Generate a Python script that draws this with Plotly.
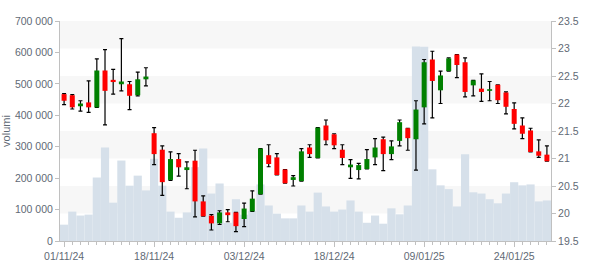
import plotly.graph_objects as go

dates = [
    "01/11/24", "04/11/24", "05/11/24", "06/11/24", "07/11/24", "08/11/24",
    "11/11/24", "12/11/24", "13/11/24", "14/11/24", "15/11/24", "18/11/24",
    "19/11/24", "20/11/24", "21/11/24", "22/11/24", "25/11/24", "26/11/24",
    "27/11/24", "28/11/24", "29/11/24",
    "02/12/24", "03/12/24", "04/12/24", "05/12/24", "06/12/24", "09/12/24",
    "10/12/24", "11/12/24", "12/12/24", "13/12/24", "16/12/24", "17/12/24",
    "18/12/24", "19/12/24", "20/12/24", "23/12/24", "27/12/24", "30/12/24",
    "02/01/25", "03/01/25", "06/01/25", "07/01/25", "08/01/25", "09/01/25",
    "10/01/25", "13/01/25", "14/01/25", "15/01/25", "16/01/25", "17/01/25",
    "20/01/25", "21/01/25", "22/01/25", "23/01/25", "24/01/25", "27/01/25",
    "28/01/25", "29/01/25", "30/01/25",
]

opens = [22.17, 22.15, 21.95, 22.02, 21.93, 22.60, 22.43, 22.35, 22.35, 22.15,
         22.44, 21.46, 21.16, 20.61, 20.99, 20.79, 20.96, 20.22, 19.96, 19.82,
         20.02, 20.02, 19.90, 20.04, 20.35, 21.06, 21.02, 20.80, 20.61, 20.59,
         21.20, 21.01, 21.60, 21.44, 21.16, 20.84, 20.79, 20.81, 21.02, 21.35,
         21.08, 21.32, 21.55, 21.35, 21.93, 22.80, 22.24, 22.59, 22.89, 22.75,
         22.33, 22.27, 22.23, 22.34, 22.20, 21.90, 21.60, 21.51, 21.13, 21.07]
highs = [22.18, 22.16, 22.05, 22.41, 22.81, 22.98, 22.62, 23.18, 22.40, 22.57,
         22.65, 21.56, 21.23, 21.12, 21.09, 20.94, 21.15, 20.32, 19.98, 20.05,
         20.07, 20.02, 20.19, 20.41, 21.18, 21.25, 21.09, 20.80, 20.69, 21.18,
         21.25, 21.56, 21.70, 21.45, 21.25, 20.98, 20.91, 21.16, 21.36, 21.39,
         21.32, 21.70, 21.55, 22.05, 22.80, 22.95, 22.59, 22.83, 22.89, 22.83,
         22.42, 22.54, 22.40, 22.34, 22.21, 22.01, 21.74, 21.55, 21.34, 21.23]
lows = [21.98, 21.90, 21.86, 21.84, 21.93, 21.61, 22.17, 22.23, 21.89, 22.14,
        22.32, 20.89, 20.33, 20.60, 20.68, 20.45, 19.94, 19.95, 19.70, 19.80,
        19.85, 19.67, 19.76, 20.04, 20.35, 20.85, 20.70, 20.55, 20.50, 20.59,
        21.02, 21.01, 21.25, 21.18, 20.89, 20.64, 20.63, 20.81, 20.89, 20.78,
        20.98, 21.23, 21.15, 20.79, 21.63, 21.74, 22.00, 22.59, 22.47, 22.12,
        22.14, 22.04, 22.05, 22.00, 21.81, 21.54, 21.36, 21.12, 21.02, 20.95]
closes = [22.05, 21.93, 22.00, 21.93, 22.60, 22.23, 22.39, 22.40, 22.14, 22.44,
          22.49, 21.08, 20.57, 20.99, 20.84, 20.84, 20.22, 19.95, 19.82, 20.02,
          19.97, 19.77, 20.09, 20.27, 21.18, 20.90, 20.70, 20.55, 20.66, 21.13,
          21.08, 21.56, 21.33, 21.24, 21.01, 20.89, 20.88, 20.99, 21.20, 21.08,
          21.22, 21.66, 21.37, 21.89, 22.75, 22.41, 22.51, 22.82, 22.70, 22.21,
          22.42, 22.21, 22.26, 22.06, 21.94, 21.63, 21.45, 21.12, 21.05, 20.95]
volumes = [52000, 93500, 81000, 84000, 202000, 297600, 122000, 256000, 176000, 208000,
           161000, 262000, 176000, 93500, 74000, 91000, 235000, 294000, 151000, 183000,
           58000, 133000, 84000, 96000, 180000, 113000, 87000, 72000, 72000, 113000,
           93500, 154000, 110000, 93500, 100000, 129000, 93500, 58000, 81000, 55000,
           104000, 85000, 113000, 619000, 618000, 228000, 177000, 165000, 110000, 276000,
           155000, 151000, 133000, 120000, 151000, 187000, 177000, 180000, 126000, 129000]

tick_labels = ["01/11/24", "18/11/24", "03/12/24", "18/12/24", "09/01/25", "24/01/25"]
price_bands = [[20.0, 20.5], [21.0, 21.5], [22.0, 22.5], [23.0, 23.5]]

UP = "#008000"
DOWN = "#ff0000"
VOL = "#d6e0ea"
AXIS = "#c0c0c0"
LABEL = "#5f6a75"

x = list(range(len(dates)))
tickvals = [dates.index(t) for t in tick_labels]
mid = [(h + l) / 2 for h, l in zip(highs, lows)]
half = [(h - l) / 2 for h, l in zip(highs, lows)]


def body_segments(rising):
    xs, ys = [], []
    for i, o, c in zip(x, opens, closes):
        if (c >= o) == rising:
            lo, hi = min(o, c), max(o, c)
            if hi - lo < 0.03:
                hi = lo + 0.03
            xs += [i, i, None]
            ys += [lo, hi, None]
    return xs, ys


fig = go.Figure()
fig.add_trace(go.Bar(x=x, y=volumes, width=1, yaxis="y",
                     marker=dict(color=VOL, line=dict(width=0)), hoverinfo="skip"))
fig.add_trace(go.Scatter(x=x, y=mid, mode="markers", yaxis="y2",
                         marker=dict(size=1, color="rgba(0,0,0,0)"),
                         error_y=dict(type="data", array=half, symmetric=True,
                                      color="#000000", thickness=1.2, width=2),
                         hoverinfo="skip"))
for rising, col in [(True, UP), (False, DOWN)]:
    bx, by = body_segments(rising)
    fig.add_trace(go.Scatter(x=bx, y=by, mode="lines", yaxis="y2",
                             line=dict(color=col, width=5), connectgaps=False,
                             hoverinfo="skip"))

shapes = [dict(type="rect", xref="paper", x0=0, x1=1, yref="y2", y0=b[0], y1=b[1],
               fillcolor="#f7f7f7", line=dict(width=0), layer="below")
          for b in price_bands]

fig.update_layout(
    width=600, height=270,
    margin=dict(l=60, r=49, t=21, b=29, autoexpand=False),
    paper_bgcolor="white", plot_bgcolor="white",
    showlegend=False, barmode="overlay", separators=". ",
    font=dict(family="Liberation Sans, Arial, sans-serif", size=10.5, color=LABEL),
    shapes=shapes,
    xaxis=dict(range=[-0.5, 59.5], tickvals=tickvals, ticktext=tick_labels,
               ticks="outside", ticklen=5, tickcolor=AXIS, showline=True, linecolor=AXIS,
               showgrid=False, zeroline=False, automargin=False,
               minor=dict(dtick=1, tick0=0, ticks="outside", ticklen=3, tickcolor=AXIS,
                          showgrid=False)),
    yaxis=dict(range=[0, 700000], dtick=100000, tickformat=",d", ticks="outside",
               ticklen=4, tickcolor=AXIS, showline=True, linecolor=AXIS,
               showgrid=False, zeroline=False, automargin=False,
               title=dict(text="volumi", standoff=14, font=dict(size=11, color=LABEL))),
    yaxis2=dict(overlaying="y", side="right", range=[19.5, 23.5], dtick=0.5,
                ticks="outside", ticklen=4, tickcolor=AXIS, showline=True, linecolor=AXIS,
                showgrid=False, zeroline=False, automargin=False),
)

fig.write_html("out.html")
